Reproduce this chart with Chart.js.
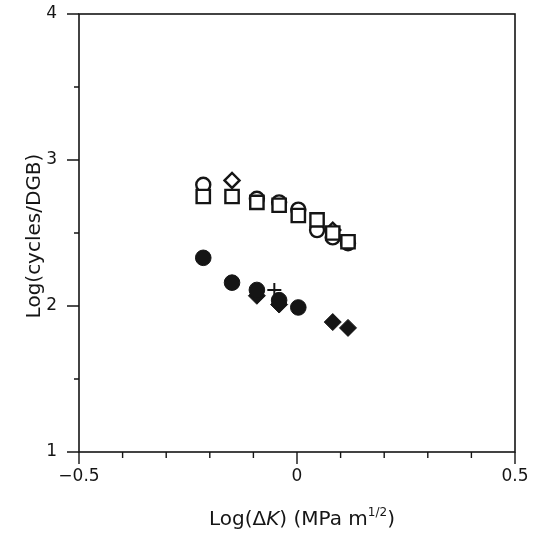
<!DOCTYPE html>
<html>
<head>
<meta charset="utf-8">
<script src="https://cdn.jsdelivr.net/npm/chart.js@4/dist/chart.umd.min.js"></script>
<style>
  html, body { margin: 0; padding: 0; background: #fff; }
  #wrap { width: 534px; height: 535px; }
</style>
</head>
<body>
<div id="wrap"><canvas id="chart"></canvas></div>
<script>
// values: Log(dK) on x, Log(cycles/DGB) on y
const openCircleX = [-0.215, -0.092, -0.041, 0.003, 0.046, 0.082, 0.117]
const openCircleY = [2.83, 2.735, 2.71, 2.66, 2.52, 2.47, 2.43]
const openSquareX = [-0.215, -0.149, -0.092, -0.041, 0.003, 0.046, 0.082, 0.117]
const openSquareY = [2.75, 2.75, 2.71, 2.69, 2.62, 2.59, 2.50, 2.44]
const openDiamondX = [-0.149, 0.082]
const openDiamondY = [2.86, 2.52]
const filledCircleX = [-0.215, -0.149, -0.092, -0.041, 0.003]
const filledCircleY = [2.33, 2.16, 2.11, 2.04, 1.99]
const filledDiamondX = [-0.092, -0.041, 0.082, 0.117]
const filledDiamondY = [2.07, 2.01, 1.89, 1.85]
const plusX = [-0.052]
const plusY = [2.11]

const xTickLabels = { '-0.5': '\u22120.5', '0': '0', '0.5': '0.5' }
const yTickLabels = { '1': '1', '2': '2', '3': '3', '4': '4' }

const ink = '#151515'
const fontFamily = "'DejaVu Sans', 'Liberation Sans', sans-serif"

function pts(xs, ys) {
  return xs.map((x, i) => ({ x: x, y: ys[i] }))
}

function keyOf(v) {
  return String(Math.round(v * 10) / 10)
}

// keep the plot box where the picture has it
function fixBox(s, size) {
  if (s.isHorizontal()) s.height = size
  else s.width = size
  s.paddingTop = 0
  s.paddingBottom = 0
  s.paddingLeft = 0
  s.paddingRight = 0
}

// box, tick marks and axis titles
const framePlugin = {
  id: 'frame',
  afterDraw(chart) {
    const c = chart.ctx
    const a = chart.chartArea
    const xs = chart.scales.x
    const ys = chart.scales.y
    c.save()
    c.strokeStyle = ink
    c.lineWidth = 1.6
    c.strokeRect(a.left, a.top, a.right - a.left, a.bottom - a.top)

    c.lineWidth = 1.4
    c.beginPath()
    for (let v = -5; v <= 5; v++) {
      const px = xs.getPixelForValue(v / 10)
      const len = v % 5 === 0 ? 12 : 6
      c.moveTo(px, a.bottom)
      c.lineTo(px, a.bottom + len)
    }
    for (let v = 2; v <= 8; v++) {
      const py = ys.getPixelForValue(v / 2)
      const len = v % 2 === 0 ? 12 : 5
      c.moveTo(a.left, py)
      c.lineTo(a.left - len, py)
    }
    c.stroke()

    c.fillStyle = ink
    c.textBaseline = 'alphabetic'

    // x title: Log(ΔK) (MPa m^1/2)
    const big = '20px ' + fontFamily
    const ital = 'italic 20px ' + fontFamily
    const small = '12px ' + fontFamily
    const parts = [
      { t: 'Log(\u0394', f: big, dy: 0 },
      { t: 'K', f: ital, dy: 0 },
      { t: ') (MPa m', f: big, dy: 0 },
      { t: '1/2', f: small, dy: -9 },
      { t: ')', f: big, dy: 0 }
    ]
    let total = 0
    parts.forEach(p => { c.font = p.f; p.w = c.measureText(p.t).width; total += p.w })
    let x = 302 - total / 2
    parts.forEach(p => {
      c.font = p.f
      c.textAlign = 'left'
      c.fillText(p.t, x, 525 + p.dy)
      x += p.w
    })

    // y title
    c.translate(40, 236)
    c.rotate(-Math.PI / 2)
    c.font = big
    c.textAlign = 'center'
    c.fillText('Log(cycles/DGB)', 0, 0)
    c.restore()
  }
}

const ctx = document.getElementById('chart')

new Chart(ctx, {
  type: 'scatter',
  data: {
    datasets: [
      {
        label: 'open squares',
        data: pts(openSquareX, openSquareY),
        pointStyle: 'rect',
        pointRadius: 9.4,
        borderWidth: 2.4,
        borderColor: ink,
        backgroundColor: '#fff',
        order: 2
      },
      {
        label: 'open diamonds',
        data: pts(openDiamondX, openDiamondY),
        pointStyle: 'rectRot',
        pointRadius: 7.5,
        borderWidth: 2.4,
        borderColor: ink,
        backgroundColor: '#fff',
        order: 3
      },
      {
        label: 'open circles',
        data: pts(openCircleX, openCircleY),
        pointStyle: 'circle',
        pointRadius: 7,
        borderWidth: 2.4,
        borderColor: ink,
        backgroundColor: '#fff',
        order: 4
      },
      {
        label: 'filled circles',
        data: pts(filledCircleX, filledCircleY),
        pointStyle: 'circle',
        pointRadius: 7.8,
        borderWidth: 1,
        borderColor: ink,
        backgroundColor: ink,
        order: 5
      },
      {
        label: 'filled diamonds',
        data: pts(filledDiamondX, filledDiamondY),
        pointStyle: 'rectRot',
        pointRadius: 8.5,
        borderWidth: 1,
        borderColor: ink,
        backgroundColor: ink,
        order: 6
      },
      {
        label: 'plus',
        data: pts(plusX, plusY),
        pointStyle: 'cross',
        pointRadius: 7,
        borderWidth: 2,
        borderColor: ink,
        backgroundColor: ink,
        order: 1
      }
    ]
  },
  options: {
    responsive: true,
    maintainAspectRatio: false,
    animation: false,
    events: [],
    layout: { padding: { left: 0, top: 14, right: 19, bottom: 0 } },
    plugins: {
      legend: { display: false },
      tooltip: { enabled: false }
    },
    scales: {
      x: {
        type: 'linear',
        min: -0.5,
        max: 0.5,
        afterFit: s => fixBox(s, 83),
        grid: { display: false, drawTicks: false },
        border: { display: false },
        ticks: {
          stepSize: 0.1,
          padding: 14,
          autoSkip: false,
          maxRotation: 0,
          color: ink,
          font: { family: fontFamily, size: 17 },
          callback: v => xTickLabels[keyOf(v)] || ''
        }
      },
      y: {
        type: 'linear',
        min: 1,
        max: 4,
        afterFit: s => fixBox(s, 79),
        grid: { display: false, drawTicks: false },
        border: { display: false },
        ticks: {
          stepSize: 0.5,
          padding: 22,
          autoSkip: false,
          color: ink,
          font: { family: fontFamily, size: 17 },
          callback: v => yTickLabels[keyOf(v)] || ''
        }
      }
    }
  },
  plugins: [framePlugin]
})
</script>
</body>
</html>
